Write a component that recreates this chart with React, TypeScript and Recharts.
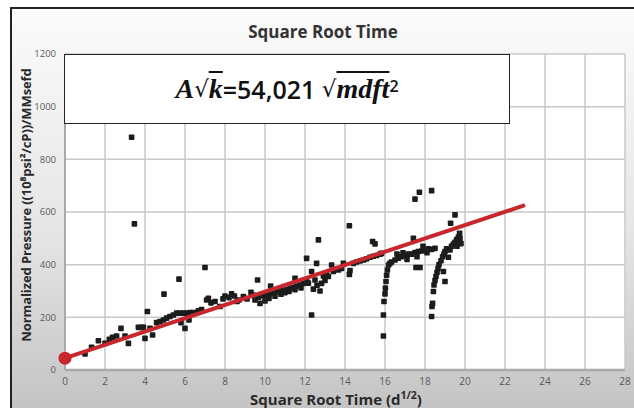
import React from 'react';
import { ScatterChart, Scatter, XAxis, YAxis, CartesianGrid } from 'recharts';

// Normalized pressure vs sqrt(time) — points grouped by flow period
const earlyTrend: [number, number][] = [
  [1.0, 61], [1.33, 86], [1.67, 111], [2.0, 101], [2.22, 117], [2.38, 124], [2.58, 129],
  [2.8, 158], [3.0, 129], [3.17, 101], [3.67, 162], [3.83, 162], [3.92, 162], [4.0, 120],
  [4.12, 222], [4.25, 158], [4.38, 133], [4.58, 180], [4.75, 184], [4.92, 190], [5.08, 197],
  [5.25, 203], [5.42, 209], [5.58, 216], [5.75, 216], [5.8, 180], [5.92, 216], [6.0, 158],
  [6.08, 216], [6.2, 190], [6.25, 218], [6.42, 218], [6.67, 225], [6.83, 230],
];

const midTrend: [number, number][] = [
  [7.08, 266], [7.17, 272], [7.3, 255], [7.5, 260], [7.75, 241], [7.9, 270], [8.0, 281],
  [8.2, 275], [8.33, 289], [8.47, 281], [8.6, 260], [8.7, 266], [8.92, 279], [9.1, 270],
  [9.3, 295], [9.4, 285], [9.5, 266], [9.67, 276], [9.75, 253], [9.92, 281], [10.0, 262],
  [10.08, 285], [10.2, 272], [10.25, 290], [10.42, 293], [10.5, 280], [10.58, 296],
  [10.75, 300], [10.8, 288], [10.92, 303], [11.0, 294], [11.08, 305], [11.2, 298],
  [11.25, 310], [11.42, 314], [11.5, 305], [11.58, 319], [11.75, 323], [11.8, 312],
  [11.92, 329], [12.08, 336], [10.28, 319], [11.5, 348],
];

const lateTrend: [number, number][] = [
  [12.17, 330], [12.33, 374], [12.42, 307], [12.5, 342], [12.58, 405], [12.6, 322],
  [12.75, 300], [12.83, 329], [12.92, 357], [13.0, 340], [13.08, 362], [13.17, 355],
  [13.33, 399], [13.42, 374], [13.67, 380], [13.83, 386], [13.92, 405], [14.22, 363],
  [14.25, 378], [14.42, 405], [14.58, 410], [14.75, 414], [14.92, 418], [15.08, 422],
  [15.25, 428], [15.42, 432], [15.58, 435], [15.75, 440], [15.83, 443], [15.38, 488], [15.5, 479],
];

const buildUp1: [number, number][] = [
  [15.92, 129], [15.92, 209], [15.95, 260], [16.0, 289], [16.02, 311], [16.05, 336],
  [16.08, 360], [16.12, 380], [16.18, 399], [16.25, 405], [16.33, 410], [16.5, 418],
  [16.6, 440], [16.67, 425], [16.83, 430], [16.9, 445], [17.0, 435], [17.1, 420],
  [17.17, 440], [17.33, 440], [17.5, 446], [17.6, 430], [17.67, 450], [17.83, 452],
  [17.9, 470], [18.0, 455], [18.1, 445], [18.17, 460], [18.33, 458], [18.5, 462],
  [17.42, 500], [17.55, 389], [17.75, 389],
];

const buildUp2: [number, number][] = [
  [18.33, 203], [18.35, 241], [18.38, 253], [18.42, 298], [18.45, 323], [18.5, 340],
  [18.55, 355], [18.6, 370], [18.65, 385], [18.7, 400], [18.8, 415], [18.88, 430],
  [18.92, 374], [18.95, 440], [19.0, 336], [19.0, 450], [19.08, 460], [19.17, 428],
  [19.25, 456], [19.33, 470], [19.42, 478], [19.5, 485], [19.58, 495], [19.6, 470],
  [19.67, 505], [19.7, 490], [19.73, 519], [19.75, 500], [19.8, 480], [19.28, 557], [19.5, 589],
];

const outliers: [number, number][] = [
  [3.33, 884], [3.47, 555], [4.95, 288], [5.7, 345], [7.0, 389], [9.63, 342],
  [12.08, 424], [12.33, 209], [12.67, 494], [14.22, 548], [17.5, 649], [17.72, 675], [18.33, 681],
];

// straight-line fit through the early radial-flow data
const fitLine: [number, number][] = [[0, 45], [23, 626]];

const xTicks = [0, 2, 4, 6, 8, 10, 12, 14, 16, 18, 20, 22, 24, 26, 28];
const yTicks = [0, 200, 400, 600, 800, 1000, 1200];

const toPts = (arr: [number, number][]) => arr.map(([x, y]) => ({ x, y }));
const allPoints = toPts([...earlyTrend, ...midTrend, ...lateTrend, ...buildUp1, ...buildUp2, ...outliers]);

const FONT = '"Open Sans", "Noto Sans", sans-serif';

const SquareDot = (props: any) => {
  const { cx, cy } = props;
  if (cx == null || cy == null) return null;
  return <rect x={cx - 2.8} y={cy - 2.8} width={5.6} height={5.6} rx={0.8} fill="#1c1c1c" />;
};

const FitDot = (props: any) => {
  const { cx, cy, payload } = props;
  if (!payload || payload.x !== 0) return null;
  return <circle cx={cx} cy={cy} r={6.5} fill="#c8272d" />;
};

const mathItalic: React.CSSProperties = {
  fontFamily: '"Liberation Serif", serif',
  fontStyle: 'italic',
  fontWeight: 700,
};

export default function App() {
  return (
    <div
      style={{
        position: 'absolute',
        left: 10,
        top: 7,
        width: 624,
        height: 401,
        boxSizing: 'border-box',
        borderLeft: '2px solid #222',
        borderTop: '2px solid #222',
        background: 'linear-gradient(to bottom, #fbfbfb 0%, #e6e6e6 55%, #c4c4c4 100%)',
        overflow: 'hidden',
        fontFamily: FONT,
      }}
    >
      <div
        style={{
          position: 'absolute',
          left: 0,
          width: 622,
          top: 12,
          textAlign: 'center',
          fontSize: 17,
          lineHeight: '22px',
          fontWeight: 700,
          color: '#333',
        }}
      >
        Square Root Time
      </div>

      <ScatterChart width={622} height={399} margin={{ top: 45, right: 9, left: 0, bottom: 0 }}>
        <CartesianGrid stroke="#c9c9c9" strokeWidth={1.5} fill="#ffffff" />
        <XAxis
          type="number"
          dataKey="x"
          domain={[0, 28]}
          ticks={xTicks}
          height={38}
          tickLine={false}
          axisLine={{ stroke: '#a9a9a9', strokeWidth: 2.5 }}
          tick={{ fontSize: 10, fill: '#5a5a5a', fontFamily: FONT }}
          tickMargin={2}
        />
        <YAxis
          type="number"
          dataKey="y"
          domain={[0, 1200]}
          ticks={yTicks}
          width={53}
          tickLine={false}
          axisLine={{ stroke: '#a9a9a9', strokeWidth: 2 }}
          tick={{ fontSize: 9.5, fill: '#5a5a5a', fontFamily: FONT }}
          tickMargin={3}
        />
        <Scatter data={allPoints} shape={SquareDot} isAnimationActive={false} />
        <Scatter
          data={toPts(fitLine)}
          line={{ stroke: '#c8272d', strokeWidth: 4 }}
          shape={FitDot}
          isAnimationActive={false}
        />
      </ScatterChart>

      {/* equation callout */}
      <div
        style={{
          position: 'absolute',
          left: 52,
          top: 45,
          width: 446,
          height: 70,
          boxSizing: 'border-box',
          background: '#fff',
          border: '1.5px solid #222',
          display: 'flex',
          alignItems: 'center',
          justifyContent: 'center',
          fontSize: 28,
          color: '#111',
        }}
      >
        <span style={mathItalic}>A</span>
        <span style={{ fontFamily: '"DejaVu Serif", serif', fontSize: 23 }}>√</span>
        <span style={{ ...mathItalic, textDecoration: 'overline' }}>k</span>
        <span style={{ fontFamily: FONT, fontWeight: 600, fontSize: 25 }}>=54,021&nbsp;</span>
        <span style={{ fontFamily: '"DejaVu Serif", serif', fontSize: 23 }}>√</span>
        <span style={{ ...mathItalic, textDecoration: 'overline' }}>mdft</span>
        <sup style={{ fontFamily: FONT, fontSize: 16, fontWeight: 600, position: 'relative', top: -3 }}>2</sup>
      </div>

      {/* y axis title */}
      <div
        style={{
          position: 'absolute',
          left: 14,
          top: 196,
          transform: 'translate(-50%, -50%) rotate(-90deg)',
          whiteSpace: 'nowrap',
          fontSize: 13,
          fontWeight: 700,
          letterSpacing: -0.1,
          lineHeight: '15px',
          color: '#2a2a2a',
        }}
      >
        Normalized Pressure ((10⁸psi²/cP))/MMsefd
      </div>

      {/* x axis title */}
      <div
        style={{
          position: 'absolute',
          left: 0,
          width: 648,
          top: 382,
          textAlign: 'center',
          fontSize: 15,
          lineHeight: '17px',
          fontWeight: 700,
          color: '#2a2a2a',
          whiteSpace: 'nowrap',
        }}
      >
        Square Root Time (d<sup style={{ fontSize: 10.5, lineHeight: 0 }}>1/2</sup>)
      </div>
    </div>
  );
}
